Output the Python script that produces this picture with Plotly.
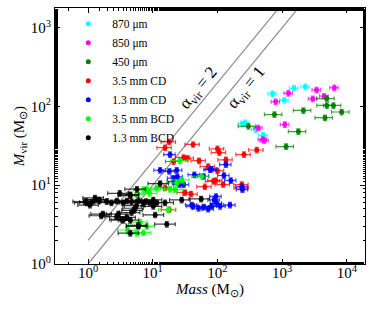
import numpy as np
import plotly.graph_objects as go

# ---------------- data ----------------
m870 = [710, 1520, 2280, 1080, 245, 268, 395, 510]
v870 = [145, 170, 178, 120, 60, 62, 51, 43]

m850 = [1250, 795, 3400, 6400, 4450, 2970, 1100, 427, 530, 500]
v850 = [147, 115, 162, 173, 135, 125, 59, 53.5, 37, 38]

m450 = [4900, 4900, 6200, 8300, 4600, 2130, 760, 300, 1780, 1150]
v450 = [126, 103, 103, 85, 72, 89, 79, 56, 48, 31]

m35cd = [18, 15.5, 42, 100, 107, 30, 34, 52, 135, 100, 94, 123, 64, 238, 240,
         31.5, 39, 18, 15.5, 21, 72, 87, 257, 405]
v35cd = [35.5, 30, 33, 29, 26, 22.5, 22, 20.5, 21, 15.3, 11.5, 10.2, 9.6, 10.2, 9.2,
         8.1, 7.7, 4.9, 9.3, 20, 17.3, 11.2, 24.5, 28]

m13cd = [18.5, 13, 18, 23.5, 21, 21, 26, 44, 77, 135, 126, 161, 244, 61, 30, 81,
         42, 51, 61, 81, 89, 95, 97, 110, 156, 40, 72, 24, 240]
v13cd = [24.5, 15.5, 15, 15.5, 12.3, 11.2, 10.2, 13.6, 15.8, 18.3, 13.3, 11.5, 8.8, 13, 10.2, 16,
         5.4, 5.1, 5.3, 5.4, 6.5, 7.2, 5.9, 5.4, 5.6, 5.6, 5.0, 12.8, 9.6]

m35bcd = [26.5, 28, 57, 23.5, 18.5, 22, 8.1, 7.2, 5.6, 17.5, 6.4, 6.0, 8.1, 4.1, 5.7, 7.2, 11.5, 8.9]
v35bcd = [20.5, 11.7, 13, 10.7, 8.9, 8.8, 8.8, 8.8, 7.6, 4.9, 3.4, 3.1, 3.0, 2.7, 2.46, 2.5, 9.2, 7.9]

m13bcd = [5.7, 3.1, 4.5, 1.28, 1.5, 1.14, 0.9, 1.95, 2.3, 2.8, 3.5, 4.0, 4.7, 6.0, 7.2, 9.1, 11.5,
          5.6, 5.3, 5.1, 4.7, 2.95, 1.7, 3.3, 4.0, 4.5, 10.9, 6.0, 4.5, 6.0, 16.5, 13, 10.2, 15.5,
          10.2, 28, 56, 2.8, 1.6, 3.5, 0.95, 1.07, 1.44, 4.5, 7.9]
v13bcd = [8.9, 7.9, 7.4, 6.9, 6.5, 6.1, 6.2, 6.2, 6.0, 6.3, 6.0, 6.3, 6.2, 6.4, 6.0, 6.0, 6.0,
          5.5, 5.1, 4.8, 4.5, 4.3, 4.3, 3.7, 3.9, 3.6, 4.2, 3.1, 2.46, 3.0, 3.2, 10.5, 6.5, 6.0,
          5.4, 6.5, 6.7, 4.0, 4.1, 3.6, 6.0, 5.6, 6.5, 7.6, 6.2]

labels = ["870 \u03bcm", "850 \u03bcm", "450 \u03bcm", "3.5 mm CD", "1.3 mm CD",
          "3.5 mm BCD", "1.3 mm BCD"]
colors = ["#00ffff", "#ff00ff", "#008000", "#ff0000", "#0000ff", "#00ff00", "#000000"]
xerr_pct = [15, 15, 30, 25, 20, 30, 35]
yerr_pct = [8, 8, 8, 8, 8, 8, 8]

alpha_vals = [2, 1]
line_mass = [1, 3000]
alpha_label_mass = [62, 270]

xtick_vals = [1, 10, 100, 1000, 10000]
ytick_vals = [1, 10, 100, 1000]

# ---------------- figure ----------------
FONT = "Liberation Serif"
fig = go.Figure()

for a in alpha_vals:
    fig.add_trace(go.Scatter(x=line_mass, y=[a * m for m in line_mass], mode="lines",
                             line=dict(color="#8c8c8c", width=1.2), showlegend=False,
                             hoverinfo="skip"))

series = [(m870, v870), (m850, v850), (m450, v450), (m35cd, v35cd), (m13cd, v13cd),
          (m35bcd, v35bcd), (m13bcd, v13bcd)]


def rgba(hexc, a):
    h = hexc.lstrip("#")
    r, g, b = int(h[0:2], 16), int(h[2:4], 16), int(h[4:6], 16)
    return f"rgba({r},{g},{b},{a})"


for (mx, vy), lab, col, ex, ey in zip(series, labels, colors, xerr_pct, yerr_pct):
    fig.add_trace(go.Scatter(
        x=mx, y=vy, mode="markers", name=lab,
        marker=dict(color=col, size=5, line=dict(width=0)),
        error_x=dict(type="percent", value=ex, color=rgba(col, 0.75), thickness=1.2, width=2),
        error_y=dict(type="percent", value=ey, color=rgba(col, 0.75), thickness=1.2, width=2),
    ))

# alpha_vir labels
shifts = [(-5, 10), (2, -16)]
for a, mlab, (xs, ys) in zip(alpha_vals, alpha_label_mass, shifts):
    fig.add_annotation(x=np.log10(mlab), y=np.log10(a * mlab), xref="x", yref="y",
                       text=f"\u03b1<sub>vir</sub> = {a}", showarrow=False,
                       textangle=-50.5, xshift=xs, yshift=ys,
                       font=dict(family=FONT, size=17, color="black"))

axis_common = dict(
    type="log", showgrid=False, zeroline=False, automargin=False,
    showline=True, linecolor="black", linewidth=1, mirror="ticks",
    ticks="inside", ticklen=5, tickwidth=1, tickcolor="black",
    minor=dict(ticks="inside", ticklen=2.5, tickwidth=0.8, tickcolor="black", showgrid=False),
    tickfont=dict(family=FONT, size=15, color="black"),
)

fig.update_xaxes(**axis_common, range=[-0.51, 4.28],
                 tickvals=xtick_vals, ticklabelstandoff=-5,
                 ticktext=[f"10<sup>{int(np.log10(v))}</sup>" for v in xtick_vals],
                 title=dict(text="<i>Mass</i> (M<sub>\u2299</sub>)",
                            font=dict(family=FONT, size=15, color="black"), standoff=2))
fig.update_yaxes(**axis_common, range=[0, 3.25],
                 tickvals=ytick_vals,
                 ticktext=[f"10<sup>{int(np.log10(v))}</sup>" for v in ytick_vals],
                 title=dict(text="<i>M</i><sub>vir</sub> (M<sub>\u2299</sub>)",
                            font=dict(family=FONT, size=15, color="black"), standoff=2))

fig.update_layout(
    width=374, height=312,
    margin=dict(l=55, r=9, t=8, b=48),
    paper_bgcolor="white", plot_bgcolor="white",
    font=dict(family=FONT, size=12, color="black"),
    legend=dict(x=0.03, y=0.995, xanchor="left", yanchor="top",
                bgcolor="rgba(255,255,255,0)", borderwidth=0,
                font=dict(family=FONT, size=11.5, color="black"),
                tracegroupgap=0, itemwidth=38),
)

fig.write_html("out.html", post_script="document.body.style.margin='0';",
               config={"displayModeBar": False})
